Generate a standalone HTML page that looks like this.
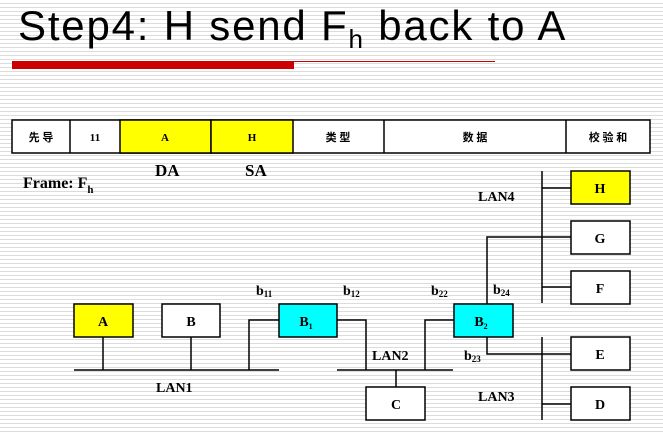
<!DOCTYPE html>
<html><head><meta charset="utf-8"><style>
html,body{margin:0;padding:0}
body{width:663px;height:435px;overflow:hidden;background:#fff repeating-linear-gradient(to bottom,#fff 0,#fff 3px,#dcdcdc 3px,#dcdcdc 4px)}
svg{position:absolute;left:0;top:0}
</style></head><body>
<svg width="663" height="435" xmlns="http://www.w3.org/2000/svg" font-family="Liberation Serif, 'Noto Serif CJK SC', serif" font-weight="bold">
<text x="18" y="40" font-family="Liberation Sans, sans-serif" font-weight="normal" font-size="42" letter-spacing="1.8" fill="#000">Step4:  H send F<tspan font-size="26" dy="8">h</tspan><tspan dy="-8"> back to A</tspan></text>
<rect x="12" y="61" width="282" height="8" fill="#cc0000"/>
<rect x="294" y="61" width="201" height="1" fill="#cc0000"/>
<g stroke="#000" stroke-width="1.5">
<rect x="12" y="120" width="638" height="33" fill="#fff"/>
<rect x="120" y="120" width="91" height="33" fill="#ffff00"/>
<rect x="211" y="120" width="82" height="33" fill="#ffff00"/>
<line x1="70" y1="120" x2="70" y2="153"/><line x1="384" y1="120" x2="384" y2="153"/><line x1="566" y1="120" x2="566" y2="153"/>
</g>
<g font-size="11" text-anchor="middle" font-family="Liberation Serif, 'Noto Sans CJK SC', serif">
<text x="41" y="141">先 导</text><text x="95" y="141">11</text><text x="165" y="141">A</text><text x="252" y="141">H</text><text x="338" y="141">类 型</text><text x="475" y="141">数 据</text><text x="608" y="141">校 验 和</text>
</g>
<text x="155" y="176" font-size="17">DA</text><text x="245" y="176" font-size="17">SA</text>
<text x="23" y="188" font-size="16">Frame: F<tspan font-size="11" dy="5">h</tspan></text>
<g stroke="#000" stroke-width="1.5" fill="none">
<line x1="74" y1="370" x2="279" y2="370"/><line x1="337" y1="370" x2="453" y2="370"/>
<line x1="103" y1="337" x2="103" y2="370"/><line x1="191" y1="337" x2="191" y2="370"/>
<polyline points="279,320 249,320 249,370"/><polyline points="337,320 366,320 366,370"/>
<polyline points="454,320 425,320 425,370"/><line x1="396" y1="370" x2="396" y2="387"/>
<line x1="542" y1="171" x2="542" y2="303"/><line x1="542" y1="337" x2="542" y2="420"/>
<line x1="542" y1="188" x2="571" y2="188"/><line x1="542" y1="287" x2="571" y2="287"/><line x1="542" y1="404" x2="571" y2="404"/>
<polyline points="487,304 487,237 571,237"/><polyline points="487,337 487,354 571,354"/>
<rect x="74" y="304" width="59" height="33" fill="#ffff00"/>
<rect x="162" y="304" width="58" height="33" fill="#fff"/>
<rect x="279" y="304" width="58" height="33" fill="#00ffff"/>
<rect x="454" y="304" width="59" height="33" fill="#00ffff"/>
<rect x="366" y="387" width="59" height="33" fill="#fff"/>
<rect x="571" y="171" width="59" height="33" fill="#ffff00"/>
<rect x="571" y="221" width="59" height="33" fill="#fff"/>
<rect x="571" y="271" width="59" height="33" fill="#fff"/>
<rect x="571" y="337" width="59" height="33" fill="#fff"/>
<rect x="571" y="387" width="59" height="33" fill="#fff"/>
</g>
<g font-size="14" text-anchor="middle">
<text x="103" y="326">A</text><text x="191" y="326">B</text>
<text x="306" y="326">B<tspan font-size="8" dy="3">1</tspan></text>
<text x="481" y="326">B<tspan font-size="8" dy="3">2</tspan></text>
<text x="396" y="409">C</text><text x="600" y="193">H</text><text x="600" y="243">G</text><text x="600" y="293">F</text><text x="600" y="359">E</text><text x="600" y="409">D</text>
</g>
<g font-size="14">
<text x="156" y="392">LAN1</text><text x="372" y="360">LAN2</text><text x="478" y="401">LAN3</text><text x="478" y="201">LAN4</text>
<text x="256" y="295">b<tspan font-size="9" dy="2">11</tspan></text>
<text x="343" y="295">b<tspan font-size="9" dy="2">12</tspan></text>
<text x="431" y="295">b<tspan font-size="9" dy="2">22</tspan></text>
<text x="493" y="294">b<tspan font-size="9" dy="2">24</tspan></text>
<text x="464" y="360">b<tspan font-size="9" dy="2">23</tspan></text>
</g>
</svg>
</body></html>
